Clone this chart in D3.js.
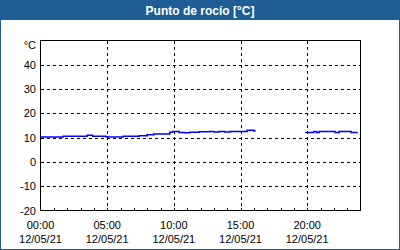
<!DOCTYPE html>
<html><head><meta charset="utf-8">
<script src="https://cdn.jsdelivr.net/npm/d3@7"></script>
<style>
html,body{margin:0;padding:0;background:#fff;}
svg{display:block;}
</style></head>
<body>
<script>
const title = "Punto de rocío [°C]";
const unitLabel = "°C";
const hours = [0,0.5,1,1.6,1.7,2.5,3.4,3.5,3.8,3.9,4.4,4.9,5.0,5.5,6.1,6.2,6.8,7.4,8.0,8.5,9.1,9.7,9.9,10.3,10.4,10.8,11.2,11.9,12.7,13.0,13.4,13.8,14.2,14.9,15.3,15.5,15.8,16.0,16.1,null,19.85,20.4,20.5,20.6,20.7,20.9,21.5,22.0,22.1,22.3,22.4,23.2,23.3,23.8];
const values = [10.3,10.3,10.3,10.3,10.6,10.6,10.6,11.0,11.0,10.6,10.6,10.4,10.3,10.3,10.3,10.6,10.6,10.8,11.2,11.5,11.5,12.2,12.5,12.5,12.1,12.0,12.2,12.4,12.5,12.3,12.5,12.3,12.5,12.5,12.5,13.0,13.0,12.7,12.6,null,12.1,12.1,12.5,12.5,12.1,12.5,12.5,12.5,12.1,12.1,12.5,12.5,12.1,12.1];
const yTicks = [-20,-10,0,10,20,30,40];
const xTickHours = [0,5,10,15,20];
const xTickTimes = ["00:00","05:00","10:00","15:00","20:00"];
const xTickDates = ["12/05/21","12/05/21","12/05/21","12/05/21","12/05/21"];

const W=400,H=250;
const svg=d3.select("body").append("svg").attr("width",W).attr("height",H);
const blue="#1f5e94";
svg.append("rect").attr("x",0.5).attr("y",0.5).attr("width",W-1).attr("height",H-1).attr("fill","#fff").attr("stroke",blue);
svg.append("rect").attr("x",0).attr("y",0).attr("width",W).attr("height",20).attr("fill",blue);
svg.append("text").attr("x",W/2).attr("y",14.5).attr("text-anchor","middle")
  .attr("font-family","Liberation Sans, Arial, sans-serif").attr("font-weight","bold").attr("font-size",12)
  .attr("fill","#fff").text(title);

const x=d3.scaleLinear().domain([0,24]).range([40.5,360.5]);
const y=d3.scaleLinear().domain([-20,50]).range([210.5,40.5]);
const font="Liberation Sans, Arial, sans-serif";

// grid
const g=svg.append("g");
g.selectAll(".hg").data(yTicks.filter(v=>v>-20)).join("line")
  .attr("x1",x(0)).attr("x2",x(24)).attr("y1",d=>Math.round(y(d))+0.5).attr("y2",d=>Math.round(y(d))+0.5)
  .attr("stroke","#000").attr("stroke-dasharray","3,3").attr("shape-rendering","crispEdges");
g.selectAll(".vg").data(xTickHours.filter(v=>v>0)).join("line")
  .attr("y1",y(50)).attr("y2",y(-20)).attr("x1",d=>Math.round(x(d))+0.5).attr("x2",d=>Math.round(x(d))+0.5)
  .attr("stroke","#000").attr("stroke-dasharray","3,3").attr("shape-rendering","crispEdges");

// minor ticks each hour
g.selectAll(".mt").data(d3.range(1,24)).join("line")
  .attr("x1",d=>Math.round(x(d))+0.5).attr("x2",d=>Math.round(x(d))+0.5)
  .attr("y1",y(-20)).attr("y2",y(-20)-3).attr("stroke","#000").attr("shape-rendering","crispEdges");

// frame
svg.append("rect").attr("x",x(0)).attr("y",y(50)).attr("width",x(24)-x(0)).attr("height",y(-20)-y(50))
  .attr("fill","none").attr("stroke","#000").attr("shape-rendering","crispEdges");

// y labels
svg.selectAll(".yl").data(yTicks).join("text")
  .attr("x",36).attr("y",d=>y(d)+4).attr("text-anchor","end")
  .attr("font-family",font).attr("font-size",11).attr("fill","#000").text(d=>d);
svg.append("text").attr("x",36).attr("y",49).attr("text-anchor","end")
  .attr("font-family",font).attr("font-size",11).attr("fill","#000").text(unitLabel);

// x labels
svg.selectAll(".xl").data(xTickHours).join("text")
  .attr("x",d=>x(d)).attr("y",229).attr("text-anchor","middle")
  .attr("font-family",font).attr("font-size",11).attr("fill","#000").text((d,i)=>xTickTimes[i]);
svg.selectAll(".xd").data(xTickHours).join("text")
  .attr("x",d=>x(d)).attr("y",243).attr("text-anchor","middle")
  .attr("font-family",font).attr("font-size",11).attr("fill","#000").text((d,i)=>xTickDates[i]);

// line
const data=hours.map((h,i)=>({h,v:values[i]}));
const line=d3.line().defined(d=>d.h!==null&&d.v!==null).x(d=>x(d.h)).y(d=>y(d.v)).curve(d3.curveStepAfter);
svg.append("path").datum(data).attr("d",line).attr("fill","none").attr("stroke","#0000ff").attr("stroke-width",1.5);
</script>
</body></html>
